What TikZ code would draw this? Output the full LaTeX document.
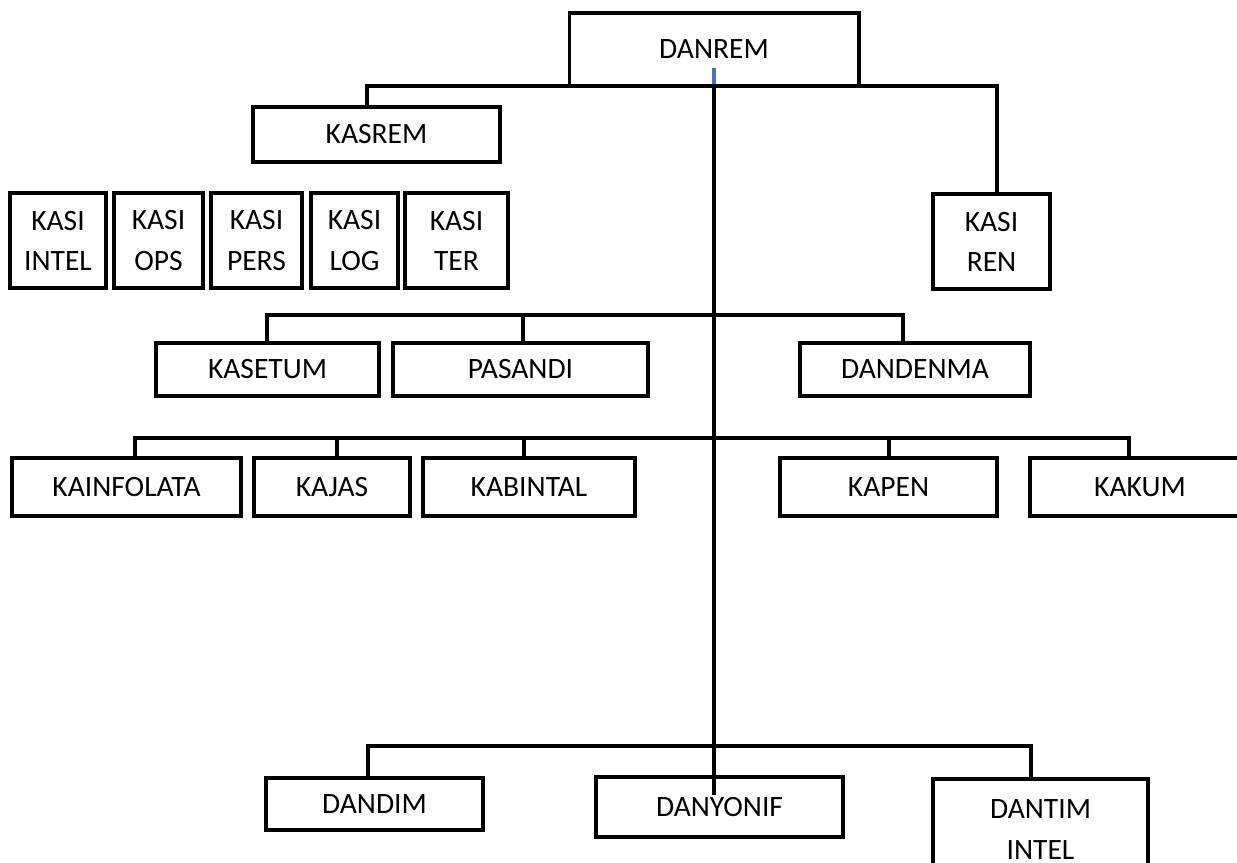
\documentclass[tikz,border=0pt]{standalone}
\usepackage{fontspec}
\setmainfont{Carlito}
\usepackage{xcolor}
\usepackage{tikz}
\usetikzlibrary{positioning}

\definecolor{tickblue}{RGB}{68,114,196}

\begin{document}
\begin{tikzpicture}[
    x=0.025cm, y=-0.025cm,
    box/.style 2 args={draw, rectangle, line width=2.8pt, inner sep=0pt, outer sep=0pt, minimum width=#1cm, minimum height=#2cm, align=center, font=\fontsize{21}{28.5}\selectfont},
    line/.style={line width=2.8pt}
]
    \useasboundingbox (0,0) rectangle (1237,862);
    \clip (0,0) rectangle (1237,862);

    \node[box={7.225}{1.825}] (danrem) at (714,49.5) {DANREM};
    \node[box={6.175}{1.375}] (kasrem) at (376.5,134.5) {KASREM};

    \node[box={2.4}{2.375}] (kasiintel) at (58,240.5) {KASI\\INTEL};
    \node[box={2.225}{2.375}] (kasiops) at (158.5,240.5) {KASI\\OPS};
    \node[box={2.275}{2.375}] (kasipers) at (256.5,240.5) {KASI\\PERS};
    \node[box={2.175}{2.375}] (kasilog) at (354.5,240.5) {KASI\\LOG};
    \node[box={2.575}{2.375}] (kasiter) at (456.5,240.5) {KASI\\TER};
    \node[box={2.925}{2.375}] (kasiren) at (991.5,241.5) {KASI\\REN};

    \node[box={5.575}{1.325}] (kasetum) at (267.5,369.5) {KASETUM};
    \node[box={6.375}{1.325}] (pasandi) at (520.5,369.5) {PASANDI};
    \node[box={5.75}{1.325}] (dandenma) at (915,369.5) {DANDENMA};

    \node[box={5.725}{1.45}] (kainfolata) at (126.5,487) {KAINFOLATA};
    \node[box={3.9}{1.45}] (kajas) at (332,487) {KAJAS};
    \node[box={5.3}{1.45}] (kabintal) at (529,487) {KABINTAL};
    \node[box={5.425}{1.45}] (kapen) at (888.5,487) {KAPEN};
    \node[box={5.5}{1.45}] (kakum) at (1140,487) {KAKUM};

    \node[box={5.425}{1.3}] (dandim) at (374.5,804) {DANDIM};
    \node[box={6.175}{1.5}] (danyonif) at (719.5,807) {DANYONIF};
    \node[box={5.375}{2.525}] (dantim) at (1040.5,829.5) {DANTIM\\INTEL};

    % points on the trunk
    \coordinate (bus1) at (714,315);
    \coordinate (bus2) at (714,438);
    \coordinate (bus3) at (714,746);
    \coordinate (trunkend) at (714,795);

    \draw[line] (danrem.south) -- (trunkend);
    \draw[line, tickblue] (danrem.south) ++(0,-2) -- ++(0,-16);

    \draw[line] (kasrem.north -| 367,0) |- (danrem.south) -| (kasiren.north -| 997,0);

    \draw[line] (kasetum.north -| 267,0) |- (bus1) -| (dandenma.north -| 903,0);
    \draw[line] (bus1 -| 523,0) -- (pasandi.north -| 523,0);

    \draw[line] (kainfolata.north -| 135,0) |- (bus2) -| (kakum.north -| 1129,0);
    \foreach \n/\x in {kajas/337, kabintal/524, kapen/889}
        \draw[line] (bus2 -| \x,0) -- (\n.north -| \x,0);

    \draw[line] (dandim.north -| 368,0) |- (bus3) -| (dantim.north -| 1031,0);
\end{tikzpicture}
\end{document}
